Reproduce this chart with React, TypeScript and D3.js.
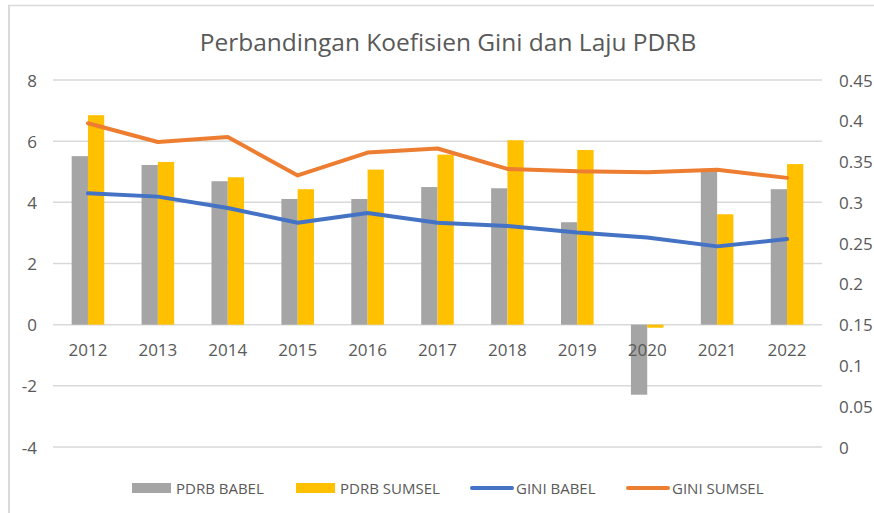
import React from "react";
import * as d3 from "d3";

const years = ["2012","2013","2014","2015","2016","2017","2018","2019","2020","2021","2022"];
const pdrbBabel = [5.51, 5.22, 4.69, 4.11, 4.11, 4.5, 4.46, 3.35, -2.29, 5.06, 4.43];
const pdrbSumsel = [6.85, 5.32, 4.82, 4.43, 5.07, 5.56, 6.03, 5.71, -0.1, 3.61, 5.25];
const giniBabel = [0.311, 0.307, 0.293, 0.275, 0.287, 0.275, 0.271, 0.263, 0.257, 0.246, 0.255];
const giniSumsel = [0.397, 0.374, 0.38, 0.333, 0.361, 0.366, 0.341, 0.338, 0.337, 0.34, 0.33];
const leftTicks = [-4, -2, 0, 2, 4, 6, 8];
const rightTicks = [0, 0.05, 0.1, 0.15, 0.2, 0.25, 0.3, 0.35, 0.4, 0.45];
const title = "Perbandingan Koefisien Gini dan Laju PDRB";
const legendItems = [
  { label: "PDRB BABEL", color: "#A5A5A5", type: "bar" },
  { label: "PDRB SUMSEL", color: "#FFC000", type: "bar" },
  { label: "GINI BABEL", color: "#4472C4", type: "line" },
  { label: "GINI SUMSEL", color: "#ED7D31", type: "line" },
];

const FONT = "'Open Sans', sans-serif";
const TXT = "#595959";

export default function App() {
  const x = d3.scaleBand<string>().domain(years).range([53, 822]).padding(0);
  const yL = d3.scaleLinear().domain([-4, 8]).range([447, 80]);
  const yR = d3.scaleLinear().domain([0, 0.45]).range([447, 80]);
  const bw = x.bandwidth() * 0.233;
  const cx = (y: string) => (x(y) as number) + x.bandwidth() / 2;

  const lineB = d3.line<number>().x((_, i) => cx(years[i])).y((d) => yR(d));
  const legendX = [132, 296, 472, 628];

  return (
    <svg width={874} height={513} style={{ position: "absolute", left: 0, top: 0, background: "#fff" }}>
      <rect x={0} y={0} width={874} height={513} fill="#fff" />
      <line x1={9} y1={5} x2={9} y2={513} stroke="#d9d9d9" strokeWidth={2} />
      <line x1={8} y1={5.5} x2={874} y2={5.5} stroke="#d9d9d9" strokeWidth={1.5} />
      <text x={448} y={41} textAnchor="middle" dominantBaseline="central" fontFamily={FONT} fontSize={24.5} fill={TXT}>
        {title}
      </text>
      {leftTicks.map((t) => (
        <line key={"g" + t} x1={53} x2={822} y1={yL(t)} y2={yL(t)} stroke="#d9d9d9" strokeWidth={1.5} />
      ))}
      {leftTicks.map((t) => (
        <text key={"l" + t} x={37} y={yL(t)} textAnchor="end" dominantBaseline="central" fontFamily={FONT} fontSize={17} fill={TXT}>
          {t}
        </text>
      ))}
      {rightTicks.map((t) => (
        <text key={"r" + t} x={839} y={yR(t)} textAnchor="start" dominantBaseline="central" fontFamily={FONT} fontSize={17} fill={TXT}>
          {String(+t.toFixed(2))}
        </text>
      ))}
      {years.map((y, i) => (
        <g key={"b" + y}>
          <rect x={cx(y) - bw} width={bw} y={Math.min(yL(pdrbBabel[i]), yL(0))} height={Math.abs(yL(pdrbBabel[i]) - yL(0))} fill="#A5A5A5" />
          <rect x={cx(y)} width={bw} y={Math.min(yL(pdrbSumsel[i]), yL(0))} height={Math.abs(yL(pdrbSumsel[i]) - yL(0))} fill="#FFC000" />
        </g>
      ))}
      {years.map((y) => (
        <text key={"x" + y} x={cx(y)} y={349} textAnchor="middle" dominantBaseline="central" fontFamily={FONT} fontSize={17} fill={TXT}>
          {y}
        </text>
      ))}
      <path d={lineB(giniBabel) || ""} fill="none" stroke="#4472C4" strokeWidth={4} strokeLinejoin="round" strokeLinecap="round" />
      <path d={lineB(giniSumsel) || ""} fill="none" stroke="#ED7D31" strokeWidth={4} strokeLinejoin="round" strokeLinecap="round" />
      {legendItems.map((it, i) => (
        <g key={it.label}>
          {it.type === "bar" ? (
            <rect x={legendX[i]} y={483} width={39} height={10} fill={it.color} />
          ) : (
            <line x1={legendX[i]} x2={legendX[i] + 40} y1={488} y2={488} stroke={it.color} strokeWidth={4} strokeLinecap="round" />
          )}
          <text x={legendX[i] + 44} y={488} dominantBaseline="central" fontFamily={FONT} fontSize={15} fill={TXT}>
            {it.label}
          </text>
        </g>
      ))}
    </svg>
  );
}
